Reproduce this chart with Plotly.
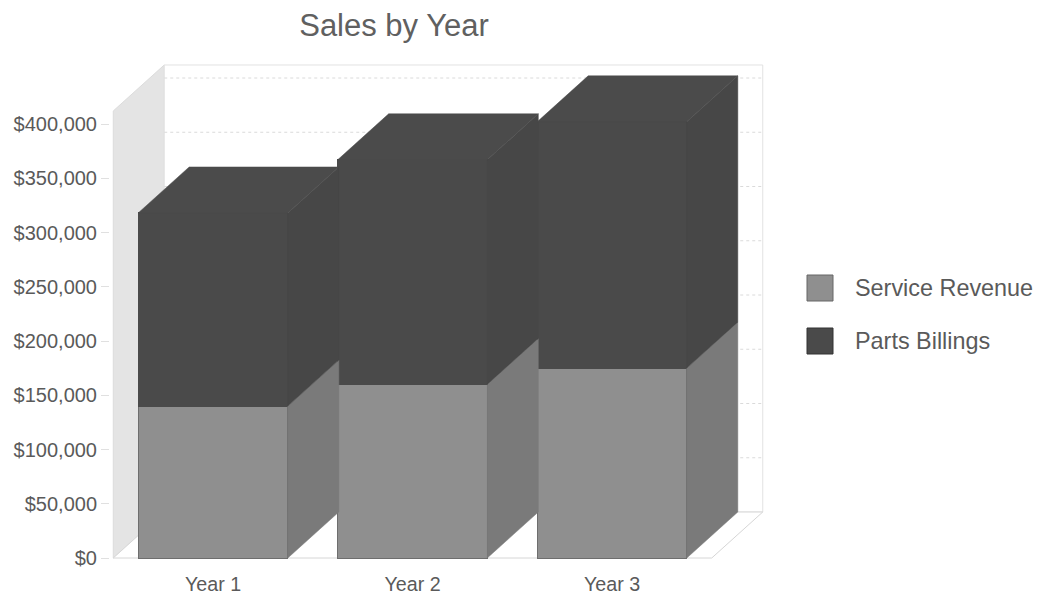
import plotly.graph_objects as go

# ---------------- data ----------------
years = ["Year 1", "Year 2", "Year 3"]
service_revenue = [140000, 160000, 175000]
parts_billings = [178000, 207000, 227000]
y_tick_values = [0, 50000, 100000, 150000, 200000, 250000, 300000, 350000, 400000]
series_names = ["Service Revenue", "Parts Billings"]

# ---------------- layout constants ----------------
W, H = 1040, 600
ML, MR, MT, MB = 110, 260, 55, 30
X_RANGE = [-0.5163, 2.8421]
Y_RANGE = [-11060, 463594]
BAR_W = 0.75
DX = 0.2556      # depth offset (category units)
DY = 42396       # depth offset (value units)
WALL_TOP = 412000
FONT = "Liberation Sans, Arial, sans-serif"
TXT = "#5a5a5a"

SERV_FRONT, SERV_SIDE = "#8f8f8f", "#7a7a7a"
PART_FRONT, PART_SIDE, PART_TOP = "#4a4a4a", "#474747", "#4b4b4b"

xs = list(range(len(years)))
totals = [s + p for s, p in zip(service_revenue, parts_billings)]

fig = go.Figure()

# front faces (bars)
fig.add_trace(go.Bar(x=xs, y=service_revenue, width=BAR_W, name=series_names[0],
                     marker=dict(color=SERV_FRONT, line=dict(color="#6e6e6e", width=1)),
                     showlegend=False))
fig.add_trace(go.Bar(x=xs, y=parts_billings, width=BAR_W, name=series_names[1],
                     marker=dict(color=PART_FRONT, line=dict(color=PART_FRONT, width=1)),
                     showlegend=False))


def face(px, py, color, name):
    fig.add_trace(go.Scatter(x=px + [px[0]], y=py + [py[0]], mode="lines", fill="toself",
                             fillcolor=color, line=dict(color=color, width=0.5),
                             hoverinfo="skip", showlegend=False, name=name))


# depth faces computed from the data
for i, (s, t) in enumerate(zip(service_revenue, totals)):
    xl, xr = i - BAR_W / 2, i + BAR_W / 2
    face([xr, xr + DX, xr + DX, xr], [0, DY, s + DY, s], SERV_SIDE, series_names[0])
    face([xr, xr + DX, xr + DX, xr], [s, s + DY, t + DY, t], PART_SIDE, series_names[1])
    face([xl, xl + DX, xr + DX, xr], [t, t + DY, t + DY, t], PART_TOP, series_names[1])

# ---------------- chart walls / floor / gridlines (shapes below) ----------------
shapes = []
x0, x1 = -0.5, len(years) - 0.5
shapes.append(dict(type="path", layer="below", xref="x", yref="y",
                   path=f"M {x0},0 L {x0+DX},{DY} L {x0+DX},{WALL_TOP+DY} L {x0},{WALL_TOP} Z",
                   fillcolor="#e4e4e4", line=dict(color="#dcdcdc", width=1)))
shapes.append(dict(type="rect", layer="below", xref="x", yref="y",
                   x0=x0 + DX, x1=x1 + DX, y0=DY, y1=WALL_TOP + DY,
                   fillcolor="#ffffff", line=dict(color="#e2e2e2", width=1)))
shapes.append(dict(type="path", layer="below", xref="x", yref="y",
                   path=f"M {x0},0 L {x1},0 L {x1+DX},{DY} L {x0+DX},{DY} Z",
                   fillcolor="#ffffff", line=dict(color="#d6d6d6", width=1)))
for v in y_tick_values[1:]:
    shapes.append(dict(type="line", layer="below", xref="x", yref="y",
                       x0=x0 + DX, x1=x1 + DX, y0=v + DY, y1=v + DY,
                       line=dict(color="#dadada", width=1, dash="dot")))


# ---------------- manual legend (large swatches) ----------------
def px_to_paper_x(px):
    return (px - ML) / (W - ML - MR)


def py_to_paper_y(py):
    return (H - MB - py) / (H - MT - MB)


annotations = []
legend_items = [(series_names[0], SERV_FRONT, "#666666", 288),
                (series_names[1], PART_FRONT, "#333333", 341)]
for name, fill, edge, cy in legend_items:
    shapes.append(dict(type="rect", xref="paper", yref="paper", layer="above",
                       x0=px_to_paper_x(807), x1=px_to_paper_x(833),
                       y0=py_to_paper_y(cy + 13), y1=py_to_paper_y(cy - 13),
                       fillcolor=fill, line=dict(color=edge, width=1)))
    annotations.append(dict(xref="paper", yref="paper", x=px_to_paper_x(853),
                            y=py_to_paper_y(cy), text=name, showarrow=False,
                            xanchor="left", yanchor="middle",
                            font=dict(family=FONT, size=23.4, color=TXT)))

fig.update_layout(
    width=W, height=H,
    margin=dict(l=ML, r=MR, t=MT, b=MB, autoexpand=False),
    barmode="stack",
    paper_bgcolor="white", plot_bgcolor="white",
    title=dict(text="Sales by Year", x=px_to_paper_x(394), xref="paper", xanchor="center",
               y=1 - 25 / H, yref="container", yanchor="middle",
               font=dict(family=FONT, size=31, color="#606060")),
    xaxis=dict(range=X_RANGE, tickvals=xs, ticktext=years, showgrid=False, zeroline=False,
               showline=False, ticks="", automargin=False,
               tickfont=dict(family=FONT, size=19.7, color=TXT)),
    yaxis=dict(range=Y_RANGE, tickvals=y_tick_values, tickformat="$,.0f", showgrid=False,
               zeroline=False, showline=False, ticks="outside", ticklen=8, automargin=False,
               tickcolor="#e0e0e0", tickfont=dict(family=FONT, size=20, color=TXT)),
    shapes=shapes,
    annotations=annotations,
    showlegend=False,
)

fig.write_html("out.html", config={"displayModeBar": False},
               post_script="document.body.style.margin='0';document.body.style.overflow='hidden';")
